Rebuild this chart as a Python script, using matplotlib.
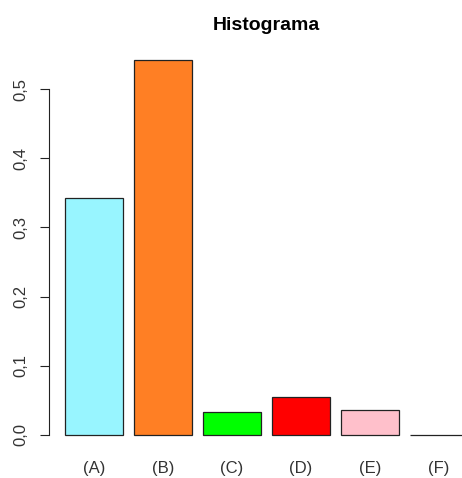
import numpy as np
import matplotlib.pyplot as plt

plt.rcParams['font.family'] = ['Liberation Sans', 'DejaVu Sans']

# data
categorias = ["(A)", "(B)", "(C)", "(D)", "(E)", "(F)"]
frecuencias = [0.342, 0.542, 0.033, 0.055, 0.036, 0.0]
colores = ["#98F5FF", "#FF7F24", "#00FF00", "#FF0000", "#FFC0CB", "#FFFFFF"]
yticks = [0.0, 0.1, 0.2, 0.3, 0.4, 0.5]

fig = plt.figure(figsize=(4.62, 4.78), dpi=100)
# R-style plot region, right side is cut off in the original
ax = fig.add_axes([0.106, 0.0586, 0.941, 0.847])

# barplot layout: width 1, space 0.2
x = 0.2 + 0.5 + np.arange(len(categorias)) * 1.2
ax.bar(x, frecuencias, width=1.0, color=colores, edgecolor="#222222", linewidth=0.9)

top = max(frecuencias)
ax.set_xlim(0.2 - 0.28, 7.2 + 0.28)
ax.set_ylim(-0.04 * top, top * 1.04)

for s in ["top", "right", "bottom"]:
    ax.spines[s].set_visible(False)
ax.spines["left"].set_bounds(0, 0.5)
ax.spines["left"].set_color("#222222")

ax.set_yticks(yticks)
ax.set_yticklabels([("%.1f" % v).replace(".", ",") for v in yticks],
                   rotation=90, va="center", fontsize=12, color="#333333")
ax.tick_params(axis="y", length=6.5, pad=8, color="#222222")

ax.set_xticks(x)
ax.set_xticklabels(categorias, fontsize=12, color="#333333")
ax.tick_params(axis="x", length=0, pad=8)

ax.set_title("Histograma", fontsize=14, fontweight="bold", pad=11)

fig.savefig("out.png", dpi=100)
